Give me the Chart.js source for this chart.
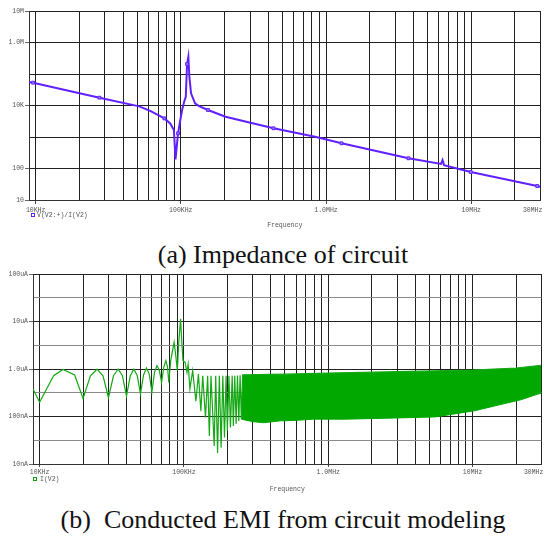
<!DOCTYPE html>
<html>
  <head>
    <title>Impedance and conducted EMI</title>
    <style>
      body { margin: 0; background: #fff; overflow: hidden; }
      canvas { position: absolute; left: 0; }
      .leg { position: absolute; font: 6.5px 'Liberation Mono', monospace; color: #555; line-height: 8px; white-space: pre; }
      .sq { display: inline-block; width: 2px; height: 2px; border: 1px solid; vertical-align: middle; margin-right: 2px; }
      .cap { position: absolute; left: 0; width: 566px; text-align: center; font: 26px 'Liberation Serif', serif; color: #111; line-height: 30px; white-space: pre; }
    </style>
  </head>
  <body>
    <script src="https://cdn.jsdelivr.net/npm/chart.js@4.4.0/dist/chart.umd.min.js"></script>

    <canvas id="zChart" width="560" height="233" style="top:0px"></canvas>
    <div class="leg" style="left:31px;top:212px"><span class="sq" style="border-color:#6020ff"></span>V(V2:+)/I(V2)</div>
    <div class="cap" style="top:240px">(a) Impedance of circuit</div>

    <canvas id="emiChart" width="560" height="233" style="top:263px"></canvas>
    <div class="leg" style="left:33px;top:476px"><span class="sq" style="border-color:#10a010;margin-right:3px"></span>I(V2)</div>
    <div class="cap" style="top:505px">(b)  Conducted EMI from circuit modeling</div>

    <script>
      // x axis, shared by both plots
      const freqTicks = [1e4, 2e4, 3e4, 4e4, 5e4, 6e4, 7e4, 8e4, 9e4,
                         1e5, 2e5, 3e5, 4e5, 5e5, 6e5, 7e5, 8e5, 9e5,
                         1e6, 2e6, 3e6, 4e6, 5e6, 6e6, 7e6, 8e6, 9e6,
                         1e7, 2e7, 3e7];
      // the last one sits on the cut-off right edge, padded so it reads like the original
      const freqLabels = { 1e4: "10KHz", 1e5: "100KHz", 1e6: "1.0MHz", 1e7: "10MHz", 3e7: "30MHz    " };

      // (a) impedance V(V2:+)/I(V2)
      const zTicks = [10, 100, 1e3, 1e4, 1e5, 1e6, 1e7];
      const zTickLabels = ["10", "100", "", "10K", "", "1.0M", "10M"];
      const zFreq = [9000, 9600, 27500, 51700, 62000, 77000, 84500, 89600, 91900, 95700,
                     98900, 102100, 105300, 108200, 110400, 112700, 114500, 117600, 125300, 133500,
                     153800, 203000, 435000, 841000, 1280000, 3700000, 6200000, 6350000, 6500000, 9930000,
                     28500000, 30000000];
      const zOhm = [55700, 53000, 17700, 9400, 6600, 3900, 2700, 1670, 195, 1310,
                    3220, 7200, 12900, 19000, 207000, 354000, 82000, 24400, 11700, 9600,
                    7200, 4400, 1890, 1020, 631, 211, 140, 185, 128, 77.4,
                    27.8, 26.5];

      // (b) conducted EMI I(V2)
      const iTicks = [1e-8, 3.162e-8, 1e-7, 3.162e-7, 1e-6, 3.162e-6, 1e-5, 3.162e-5, 1e-4];
      const iTickLabels = ["10nA", "", "100nA", "", "1.0uA", "", "10uA", "", "100uA"];
      const emiKHz = [9, 10, 12.5, 14.5, 17.5, 20, 22.5, 25, 27.5, 30,
                      32.5, 35, 37.5, 40, 42.5, 45, 47.5, 50, 52.5, 55,
                      57.5, 60, 62.5, 65, 67.5, 70, 72.5, 75, 77, 78.5,
                      81, 85.5, 88, 90, 92, 94.8, 96.5, 98.5, 101.9, 105,
                      107, 110, 115, 121, 126, 131, 135, 141, 146, 150,
                      154, 162, 166, 171, 176, 181, 186, 191, 196, 200,
                      205, 210, 216, 220, 225, 230, 235, 240, 245, 250,
                      255, 500, 1000, 3000, 10000, 20000, 30000];
      const emiUA = [0.38, 0.20, 0.72, 0.98, 0.75, 0.24, 0.72, 0.99, 0.72, 0.25,
                     0.72, 1.0, 0.72, 0.27, 0.72, 1.0, 0.72, 0.30, 0.75, 1.05,
                     0.78, 0.33, 0.85, 1.17, 0.95, 0.52, 1.1, 1.5, 1.1, 0.52,
                     1.5, 3.65, 1.8, 0.92, 3.5, 11.4, 4.0, 1.5, 1.38, 0.85,
                     1.27, 0.38, 0.92, 0.21, 0.78, 0.13, 0.72, 0.095, 0.72, 0.039,
                     0.72, 0.024, 0.72, 0.017, 0.72, 0.022, 0.72, 0.036, 0.72, 0.05,
                     0.72, 0.059, 0.72, 0.063, 0.72, 0.07, 0.73, 0.08, 0.74, 0.088,
                     0.75, 0.78, 0.82, 0.88, 0.95, 1.05, 1.2];
      // lower edge of the dense band above 250KHz
      const bandKHz = [250, 300, 357, 465, 600, 786, 1330, 2930, 5500, 7300, 10300, 16400, 21500, 28300, 30000];
      const bandLowUA = [0.088, 0.078, 0.074, 0.081, 0.083, 0.088, 0.088, 0.093, 0.098, 0.112, 0.132, 0.185, 0.224, 0.296, 0.31];

      const zMarkers = [1, 2, 5, 9, 14, 20, 22, 24, 25, 29, 30];

      Chart.defaults.font.family = "'Liberation Mono', monospace";
      Chart.defaults.font.size = 6.5;
      Chart.defaults.color = "#555";

      const isDecade = (v) => Math.abs(Math.log10(v) - Math.round(Math.log10(v))) < 1e-6;

      function xScale(height, tickLen, pad, titlePad) {
        return {
          type: "logarithmic",
          min: 9000,
          max: 3e7,
          afterBuildTicks: (s) => { s.ticks = freqTicks.map(v => ({ value: v })); },
          afterFit: (s) => { s.height = height; },
          ticks: {
            autoSkip: false, maxRotation: 0, padding: pad,
            callback: (v) => freqLabels[v] || ""
          },
          grid: {
            color: "#222", lineWidth: 1, drawTicks: true, tickLength: tickLen,
            tickColor: (c) => (c.tick && isDecade(c.tick.value)) ? "#444" : "rgba(0,0,0,0)"
          },
          border: { display: true, color: "#333", width: 1 },
          title: { display: true, text: "Frequency", padding: { top: 0, bottom: titlePad } }
        };
      }

      function yScale(min, max, ticks, labels, width, minorColor) {
        return {
          type: "logarithmic",
          min: min,
          max: max,
          afterBuildTicks: (s) => { s.ticks = ticks.map(v => ({ value: v })); },
          afterFit: (s) => { s.width = width; },
          ticks: { autoSkip: false, padding: 1, callback: (v, i) => labels[i] },
          grid: {
            color: (c) => labels[c.index] === "" && minorColor ? minorColor : "#222",
            lineWidth: 1, drawTicks: true, tickLength: 4,
            tickColor: (c) => labels[c.index] ? "#666" : "rgba(0,0,0,0)"
          },
          border: { display: true, color: "#333", width: 1 }
        };
      }

      const baseOpts = {
        responsive: false,
        animation: false,
        plugins: { legend: { display: false }, tooltip: { enabled: false } }
      };

      new Chart(document.getElementById("zChart").getContext("2d"), {
        type: "line",
        data: {
          datasets: [{
            data: zFreq.map((f, i) => ({ x: f, y: zOhm[i] })),
            borderColor: "#6020ff",
            backgroundColor: "#ffffff",
            borderWidth: 2,
            tension: 0,
            pointStyle: "rect",
            pointRadius: (c) => zMarkers.includes(c.dataIndex) ? 2 : 0,
            pointBorderColor: "#6020ff",
            pointBackgroundColor: "#9a80ff",
            pointBorderWidth: 1
          }]
        },
        options: Object.assign({}, baseOpts, {
          layout: { padding: { top: 11, right: 15, left: 0, bottom: 0 } },
          scales: {
            x: xScale(33, 4, 2, 4),
            y: yScale(10, 1e7, zTicks, zTickLabels, 29, null)
          }
        })
      });

      new Chart(document.getElementById("emiChart").getContext("2d"), {
        type: "line",
        data: {
          datasets: [{
            data: emiKHz.map((f, i) => ({ x: f * 1e3, y: emiUA[i] * 1e-6 })),
            borderColor: "#14a814",
            borderWidth: 1.2,
            pointRadius: 0,
            tension: 0,
            fill: false
          }, {
            data: bandKHz.map((f, i) => ({ x: f * 1e3, y: bandLowUA[i] * 1e-6 })),
            borderColor: "#00a800",
            backgroundColor: "#00a800",
            borderWidth: 1,
            pointRadius: 0,
            tension: 0,
            fill: "-1"
          }]
        },
        options: Object.assign({}, baseOpts, {
          layout: { padding: { top: 11, right: 12, left: 0, bottom: 0 } },
          scales: {
            x: xScale(32, 3, 1, 3),
            y: yScale(1e-8, 1e-4, iTicks, iTickLabels, 33, "#8a8a8a")
          }
        })
      });
    </script>
  </body>
</html>
